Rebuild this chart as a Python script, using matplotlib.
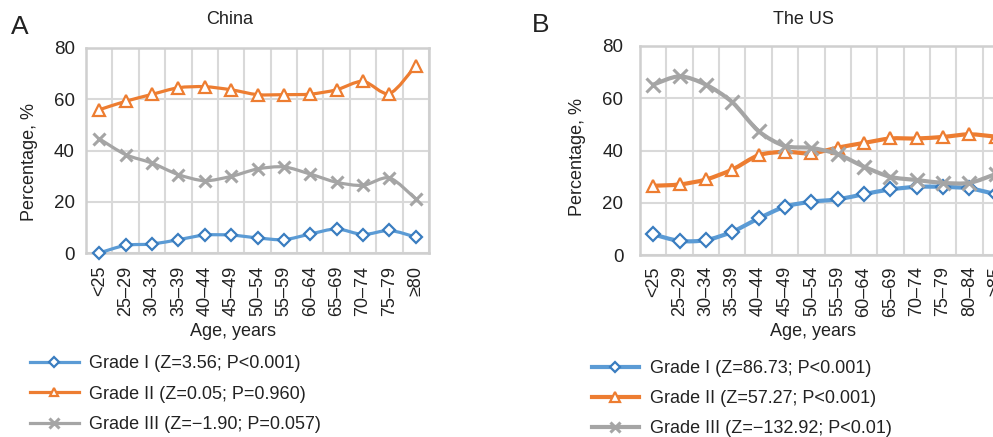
import numpy as np
import matplotlib
matplotlib.use("Agg")
import matplotlib.pyplot as plt
from matplotlib.path import Path
from matplotlib.patches import PathPatch
from matplotlib.lines import Line2D

plt.rcParams['font.family'] = ['Liberation Sans', 'DejaVu Sans']

# ---- data ----
china_ages = ["<25", "25\u201329", "30\u201334", "35\u201339", "40\u201344", "45\u201349",
              "50\u201354", "55\u201359", "60\u201364", "65\u201369", "70\u201374", "75\u201379", "\u226580"]
china_g1 = [0.0, 3.0, 3.5, 5.2, 7.0, 7.0, 5.9, 5.2, 7.4, 9.4, 7.2, 8.8, 6.2]
china_g2 = [55.9, 59.2, 61.9, 64.5, 64.9, 63.7, 61.8, 61.8, 62.0, 63.7, 67.0, 62.2, 73.1]
china_g3 = [44.6, 38.4, 35.1, 30.6, 28.2, 29.9, 32.8, 33.6, 30.8, 27.6, 26.4, 29.3, 21.1]

us_ages = ["<25", "25\u201329", "30\u201334", "35\u201339", "40\u201344", "45\u201349",
           "50\u201354", "55\u201359", "60\u201364", "65\u201369", "70\u201374", "75\u201379",
           "80\u201384", "\u226585"]
us_g1 = [7.9, 5.4, 5.7, 8.9, 14.0, 18.5, 20.4, 21.3, 23.3, 25.1, 26.1, 26.1, 25.5, 23.3]
us_g2 = [26.5, 27.0, 28.9, 32.7, 38.2, 39.5, 38.9, 41.1, 42.9, 44.6, 44.6, 45.2, 46.2, 45.3]
us_g3 = [65.2, 68.4, 65.2, 58.5, 47.4, 41.7, 41.0, 38.6, 33.8, 29.9, 28.7, 27.6, 27.6, 31.0]

china_labels = ["Grade I (Z=3.56; P<0.001)", "Grade II (Z=0.05; P=0.960)",
                "Grade III (Z=\u22121.90; P=0.057)"]
us_labels = ["Grade I (Z=86.73; P<0.001)", "Grade II (Z=57.27; P<0.001)",
             "Grade III (Z=\u2212132.92; P<0.01)"]

BLUE, BLUE_DK = "#5B9BD5", "#3A7DC0"
ORANGE = "#ED7D31"
GRAY = "#A5A5A5"
GRID = "#D9D9D9"
TXT = "#222222"
FS = 13


def smooth_path(x, y, k=7.0):
    # Excel-like smoothed line: cubic Bezier through the points
    P = np.column_stack([x, y]).astype(float)
    n = len(P)
    verts, codes = [P[0]], [Path.MOVETO]
    for i in range(n - 1):
        p0 = P[i - 1] if i > 0 else P[i]
        p3 = P[i + 2] if i + 2 < n else P[i + 1]
        verts += [P[i] + (P[i + 1] - p0) / k, P[i + 1] - (p3 - P[i]) / k, P[i + 1]]
        codes += [Path.CURVE4] * 3
    return Path(verts, codes)


def draw_panel(ax, ages, series, lw, msc):
    x = np.arange(len(ages))
    styles = [(BLUE, BLUE_DK, "D", 6 * msc, "white"),
              (ORANGE, ORANGE, "^", 8 * msc, "white"),
              (GRAY, GRAY, "x", 8.5 * msc, "none")]
    handles = []
    for k, (vals, st) in enumerate(zip(series, styles)):
        col, ecol, mk, ms, fc = st
        ax.add_patch(PathPatch(smooth_path(x, vals), facecolor="none", edgecolor=col,
                               lw=lw, capstyle="round", joinstyle="round", zorder=3 + k))
        ax.plot(x, vals, linestyle="none", marker=mk, ms=ms, mec=ecol, mfc=fc,
                mew=1.6 if mk != "x" else 2.2, zorder=3.5 + k, clip_on=False)
        handles.append(Line2D([], [], color=col, lw=lw, marker=mk, ms=ms * 0.8,
                              mec=ecol, mfc=fc, mew=1.6 if mk != "x" else 2.2))
    ax.set_xlim(-0.5, len(ages) - 0.5)
    ax.set_ylim(0, 80)
    ax.set_yticks([0, 20, 40, 60, 80])
    ax.set_xticks(x)
    ax.set_xticklabels(ages, rotation=90, fontsize=FS, color=TXT)
    ax.set_xticks(np.arange(len(ages) + 1) - 0.5, minor=True)
    ax.grid(True, which="minor", axis="x", color=GRID, lw=1.5)
    ax.grid(True, which="major", axis="y", color=GRID, lw=1.5)
    ax.tick_params(which="both", length=0)
    ax.tick_params(axis="y", labelsize=FS + 0.5, labelcolor=TXT)
    for s in ax.spines.values():
        s.set_color("#CFCFCF")
        s.set_linewidth(1.8)
    ax.set_axisbelow(True)
    return handles


fig = plt.figure(figsize=(9.93, 4.37), dpi=100)
W, H = 993.0, 437.0

def px_axes(left, top, right, bottom):
    return fig.add_axes([left / W, 1 - bottom / H, (right - left) / W, (bottom - top) / H])

axA = px_axes(86, 48, 429, 253)
hA = draw_panel(axA, china_ages, [china_g1, china_g2, china_g3], 2.3, 1.0)
axA.tick_params(axis="y", pad=8)
axA.tick_params(axis="x", pad=9)

axB = px_axes(640, 46, 1009, 255)
hB = draw_panel(axB, us_ages, [us_g1, us_g2, us_g3], 3.0, 1.15)
axB.tick_params(axis="y", pad=12)
axB.tick_params(axis="x", pad=8)

# titles, panel letters, axis labels
fig.text(20 / W, 1 - 27 / H, "A", fontsize=19, color=TXT, ha="center", va="center")
fig.text(541 / W, 1 - 25 / H, "B", fontsize=19, color=TXT, ha="center", va="center")
fig.text(230 / W, 1 - 19 / H, "China", fontsize=FS, color=TXT, ha="center", va="center")
fig.text(803 / W, 1 - 19 / H, "The US", fontsize=FS, color=TXT, ha="center", va="center")
fig.text(30 / W, 1 - 162 / H, "Percentage, %", fontsize=FS, color=TXT, rotation=90,
         ha="center", va="center")
fig.text(578 / W, 1 - 157 / H, "Percentage, %", fontsize=FS, color=TXT, rotation=90,
         ha="center", va="center")
fig.text(233 / W, 1 - 331 / H, "Age, years", fontsize=FS, color=TXT, ha="center", va="center")
fig.text(813 / W, 1 - 331 / H, "Age, years", fontsize=FS, color=TXT, ha="center", va="center")

fig.legend(hA, china_labels, loc="upper left", bbox_to_anchor=(30 / W, 1 - 355 / H),
           frameon=False, fontsize=FS, handlelength=2.7, handletextpad=0.55,
           labelspacing=0.75, borderpad=0, borderaxespad=0, labelcolor=TXT)
fig.legend(hB, us_labels, loc="upper left", bbox_to_anchor=(592 / W, 1 - 360 / H),
           frameon=False, fontsize=FS, handlelength=2.6, handletextpad=0.6,
           labelspacing=0.72, borderpad=0, borderaxespad=0, labelcolor=TXT)

fig.savefig("out.png", dpi=100)
